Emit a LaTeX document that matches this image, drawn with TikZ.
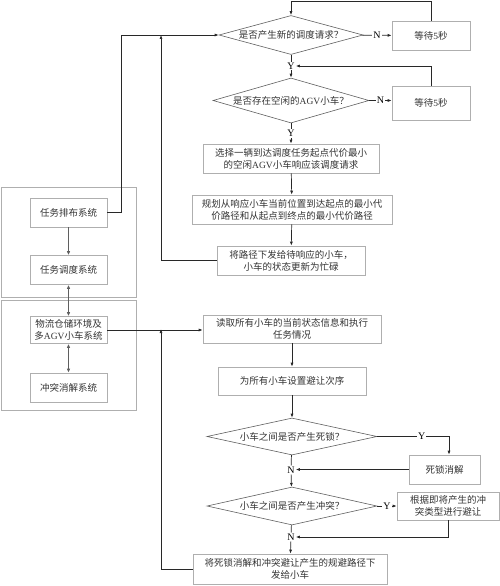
\documentclass[tikz,border=0pt]{standalone}
\usepackage{fontspec}
\setmainfont{Liberation Serif}
\newfontfamily\cjk{Noto Sans CJK SC}
\newcommand\ltn[1]{{\rmfamily #1}}
\usepackage{tikz}
\usetikzlibrary{shapes.geometric, arrows.meta, positioning, calc}
\definecolor{boxgray}{RGB}{175, 175, 175}
\definecolor{diagray}{RGB}{95, 95, 95}
\definecolor{linedark}{RGB}{40, 40, 40}
\tikzset{
  procbox/.style={draw=boxgray, line width=0.6pt, rectangle, align=center, inner sep=2pt,
    font=\cjk\fontsize{9.5}{12}\selectfont, text=black!80},
  decide/.style={draw=diagray, line width=0.6pt, diamond, aspect=3.8, inner sep=0pt,
    font=\cjk\fontsize{9.5}{12}\selectfont, text=black!80},
  lbl/.style={fill=white, inner sep=1pt, font=\fontsize{10}{10}\selectfont},
  link/.style={draw=linedark, line width=0.7pt, -{Latex[length=4pt, width=3pt]}},
  plain/.style={draw=linedark, line width=0.7pt},
  thicklink/.style={draw=diagray, line width=1.4pt, -{Latex[length=4pt, width=3.5pt]}}
}
\begin{document}
\begin{tikzpicture}[x=1pt, y=-1pt]
  \useasboundingbox (0,0) rectangle (500,586);

  % Left side: system frames
  \draw[boxgray, line width=0.6pt] (1,187) rectangle (136,297);
  \draw[boxgray, line width=0.6pt] (1,300) rectangle (136,410);
  \node[procbox, minimum width=77pt, minimum height=29pt] (tp) at (68.5,212.5) {任务排布系统};
  \node[procbox, minimum width=77pt, minimum height=29pt] (tsch) at (68.5,270) {任务调度系统};
  \node[procbox, minimum width=77pt, minimum height=27pt] (logi) at (68.5,330) {物流仓储环境及\\多\ltn{AGV}小车系统};
  \node[procbox, minimum width=77pt, minimum height=29pt] (conf) at (68.5,387.5) {冲突消解系统};

  % Task assignment flow
  \node[decide, minimum width=144pt, minimum height=39pt] (d1) at (291,35) {是否产生新的调度请求？};
  \node[procbox, minimum width=78pt, minimum height=29pt] (w1) at (431,35.5) {等待\ltn{5}秒};
  \node[lbl] (y1) at (291,66) {Y};
  \node[decide, minimum width=156pt, minimum height=45pt] (d2) at (291,100.5) {是否存在空闲的\ltn{AGV}小车？};
  \node[procbox, minimum width=78pt, minimum height=34pt] (w2) at (431,103) {等待\ltn{5}秒};
  \node[procbox, minimum width=176pt, minimum height=29pt] (sel) at (291,158.5) {选择一辆到达调度任务起点代价最小\\的空闲\ltn{AGV}小车响应该调度请求};
  \node[procbox, minimum width=200pt, minimum height=29pt] (plan) at (292,209.5) {规划从响应小车当前位置到达起点的最小代\\价路径和从起点到终点的最小代价路径};
  \node[procbox, minimum width=148pt, minimum height=29pt] (disp) at (291,260.5) {将路径下发给待响应的小车，\\小车的状态更新为忙碌};

  % Conflict resolution flow
  \node[procbox, minimum width=178pt, minimum height=28pt] (read) at (292,329) {读取所有小车的当前状态信息和执行\\任务情况};
  \node[procbox, minimum width=148pt, minimum height=28pt] (ord) at (292,381) {为所有小车设置避让次序};
  \node[decide, minimum width=170pt, minimum height=37pt] (d3) at (292,436.5) {小车之间是否产生死锁？};
  \node[procbox, minimum width=71pt, minimum height=29pt] (dead) at (444.5,469.5) {死锁消解};
  \node[lbl] (n2) at (291,470) {N};
  \node[decide, minimum width=170pt, minimum height=38pt] (d4) at (292,506) {小车之间是否产生冲突？};
  \node[procbox, minimum width=102pt, minimum height=28pt] (avoid) at (448,506) {根据即将产生的冲\\突类型进行避让};
  \node[lbl] (n3) at (291,537) {N};
  \node[procbox, minimum width=194pt, minimum height=30pt] (fin) at (290,569) {将死锁消解和冲突避让产生的规避路径下\\发给小车};

  % Junctions
  \coordinate (t1) at (431,1);
  \coordinate (j1) at (161,35);
  \coordinate (j2) at (161,329);

  % Left side arrows
  \draw[thicklink] (tp) -- (tsch);
  \draw[thicklink, {Latex[length=4pt, width=3.5pt]}-{Latex[length=4pt, width=3.5pt]}] (tsch) -- (logi);
  \draw[thicklink, {Latex[length=4pt, width=3.5pt]}-{Latex[length=4pt, width=3.5pt]}] (logi) -- (conf);
  \draw[link] (tp.east) -- ++(14,0) |- (d1.west);
  \draw[link] (logi.east) -- (logi.east -| read.west);

  % Upper flow arrows
  \draw[link] (d1) -- node[lbl]{N} (w1);
  \draw[link] (w1.north) -- (t1) -| (d1.north);
  \draw[plain] (d1) -- (y1);
  \draw[link] (y1) -- (d2);
  \draw[link] (d2.east) -- node[lbl]{N} (d2.east -| w2.west);
  \draw[link] (w2.north) |- (y1);
  \draw[link] (d2) -- node[lbl]{Y} (sel);
  \draw[link] (sel) -- (plan);
  \draw[link] (plan) -- (disp);
  \draw[link] (disp.west) -| (j1);

  % Lower flow arrows
  \draw[link] (read) -- (ord);
  \draw[link] (ord) -- (d3);
  \draw[link] (d3.east) -| node[lbl, pos=0.31]{Y} ([xshift=4.5pt]dead.north);
  \draw[plain] (d3) -- (n2);
  \draw[link] (dead.west) -- (dead.west -| n2.east);
  \draw[link] (n2) -- (d4);
  \draw[link] (d4) -- node[lbl]{Y} (avoid);
  \draw[plain] (d4) -- (n3);
  \draw[link] (avoid.south) |- (n3);
  \draw[link] (n3) -- (fin);
  \draw[link] (fin.west) -| (j2);
\end{tikzpicture}
\end{document}
